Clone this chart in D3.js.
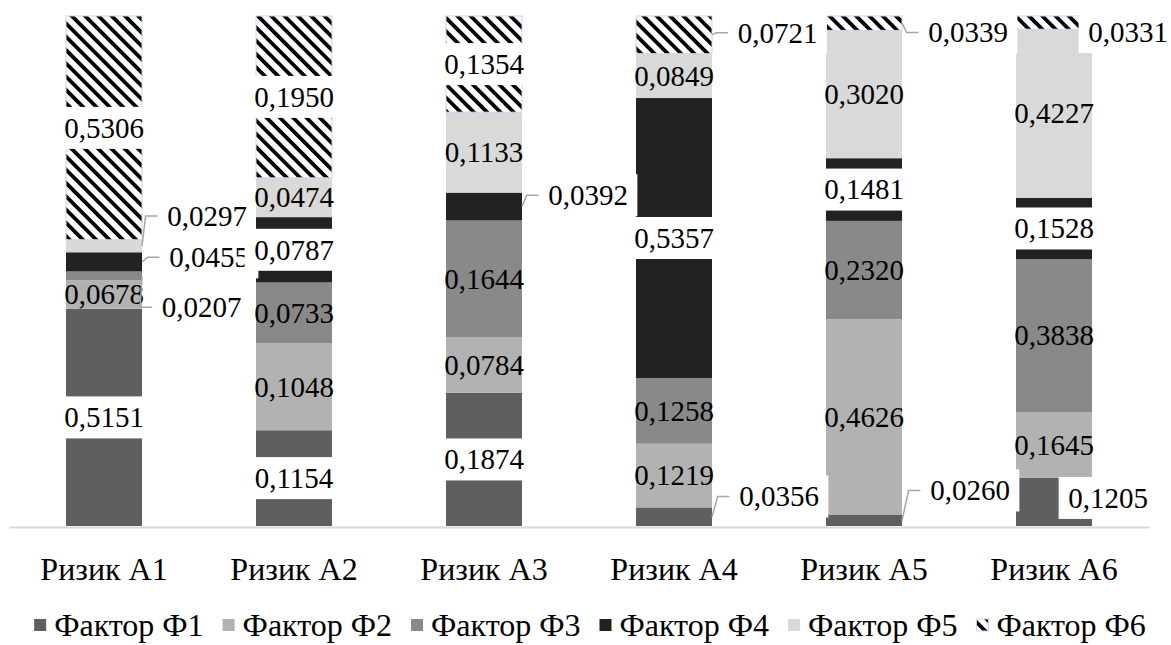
<!DOCTYPE html>
<html>
<head>
<meta charset="utf-8">
<script src="https://cdn.jsdelivr.net/npm/d3@7"></script>
</head>
<body style="margin:0">
<svg id="chart" width="1171" height="645" font-family="Liberation Serif"></svg>
<script>
// Categories (risks) and series (factors)
const risks = ["Ризик А1", "Ризик А2", "Ризик А3", "Ризик А4", "Ризик А5", "Ризик А6"];
const factors = ["Фактор Ф1", "Фактор Ф2", "Фактор Ф3", "Фактор Ф4", "Фактор Ф5", "Фактор Ф6"];

// Factor weights per risk (shown as 100 % stacked columns)
const f1 = [0.5151, 0.1154, 0.1874, 0.0356, 0.0260, 0.1205];
const f2 = [0.0678, 0.1048, 0.0784, 0.1219, 0.4626, 0.1645];
const f3 = [0.0207, 0.0733, 0.1644, 0.1258, 0.2320, 0.3838];
const f4 = [0.0455, 0.0787, 0.0392, 0.5357, 0.1481, 0.1528];
const f5 = [0.0297, 0.0474, 0.1133, 0.0849, 0.3020, 0.4227];
const f6 = [0.5306, 0.1950, 0.1354, 0.0721, 0.0339, 0.0331];
const seriesValues = [f1, f2, f3, f4, f5, f6];

// ---- styling / layout ----
const FONT = "Times New Roman";
const fills = ["#5f5f5f", "#b2b2b2", "#898989", "#222222", "#d9d9d9", "url(#hatch)"];
const labelBoxed = [true, false, false, true, false, true];   // white label background per series
const labelFont = 29, axisFont = 32;

function serifText(sel, size) {
  return sel.attr("font-family", FONT)
    .style("font-family", `"${FONT}"`)
    .style("font-size", size + "px")
    .attr("fill", "#000");
}

// labels moved away from the segment centre: [series, risk] -> offset from default spot
const labelMoves = [
  { s: 2, r: 0, dx: 97.5, dy: 31.4, leader: true },
  { s: 3, r: 0, dx: 105,  dy: -4.5, leader: true },
  { s: 4, r: 0, dx: 103,  dy: -30,  leader: true },
  { s: 3, r: 2, dx: 104,  dy: -11.4, leader: true },
  { s: 5, r: 3, dx: 103.5, dy: -2,  leader: true },
  { s: 5, r: 4, dx: 104,  dy: 9.3,  leader: true },
  { s: 5, r: 5, dx: 74,   dy: 9.4,  leader: false },
  { s: 0, r: 3, dx: 105,  dy: -20.2, leader: true },
  { s: 0, r: 4, dx: 106,  dy: -30,  leader: true },
  { s: 0, r: 5, dx: 54,   dy: -4,   leader: false }
];

const svg = d3.select("#chart");

// diagonal hatch for the last factor
const defs = svg.append("defs");
const pat = defs.append("pattern")
  .attr("id", "hatch")
  .attr("patternUnits", "userSpaceOnUse")
  .attr("width", 9.4).attr("height", 10)
  .attr("patternTransform", "rotate(-45)");
pat.append("rect").attr("width", 9.4).attr("height", 10).attr("fill", "#fff");
pat.append("rect").attr("width", 3.8).attr("height", 10).attr("fill", "#000");

const x = d3.scaleBand().domain(risks).range([9, 1149]).paddingInner(0.6).paddingOuter(0.3);
const y = d3.scaleLinear().domain([0, 1]).range([526, 16]);

const rows = risks.map((r, i) => {
  const o = { risk: r };
  factors.forEach((f, k) => { o[f] = seriesValues[k][i]; });
  return o;
});
const stacked = d3.stack().keys(factors).offset(d3.stackOffsetExpand)(rows);

// axis baseline and category names
const axis = svg.append("g")
  .attr("transform", `translate(0,${y(0) + 1})`)
  .call(d3.axisBottom(x).tickSize(0).tickSizeOuter(0));
axis.attr("font-family", FONT).attr("font-size", axisFont);
axis.select(".domain").attr("stroke", "#d9d9d9").attr("stroke-width", 2);
serifText(axis.selectAll(".tick text"), axisFont)
  .attr("y", 30).attr("dy", "0.71em");

// stacked segments
stacked.forEach((layer, s) => {
  svg.append("g").selectAll("rect").data(layer).join("rect")
    .attr("x", d => x(d.data.risk))
    .attr("width", x.bandwidth())
    .attr("y", d => y(d[1]))
    .attr("height", d => y(d[0]) - y(d[1]))
    .attr("fill", fills[s])
    .attr("stroke", s === 5 ? "#c8d6f0" : "none")
    .attr("stroke-width", s === 5 ? 1 : 0);
});

// data labels
const fmt = v => d3.format(".4f")(v).replace(".", ",");
const padX = 9.5, boxH = 42;
const labelLayer = svg.append("g");
stacked.forEach((layer, s) => {
  layer.forEach((d, r) => {
    const value = seriesValues[s][r];
    const cx0 = x(d.data.risk) + x.bandwidth() / 2;
    const cy0 = (y(d[0]) + y(d[1])) / 2;
    const mv = labelMoves.find(m => m.s === s && m.r === r);
    const cx = cx0 + (mv ? mv.dx : 0);
    const cy = cy0 + (mv ? mv.dy : 0);
    const g = labelLayer.append("g");
    const leader = g.append("path");
    const box = g.append("rect");
    const t = serifText(g.append("text"), labelFont)
      .attr("x", cx).attr("y", cy).attr("dy", "0.34em")
      .attr("text-anchor", "middle")
      .text(fmt(value));
    const tw = t.node().getComputedTextLength();
    const bw = tw + 2 * padX;
    if (labelBoxed[s]) {
      box.attr("x", cx - bw / 2).attr("y", cy - boxH / 2)
        .attr("width", bw).attr("height", boxH).attr("fill", "#fff");
    } else {
      box.remove();
    }
    if (mv && mv.leader) {
      const barRight = x(d.data.risk) + x.bandwidth();
      const boxLeft = cx - bw / 2;
      leader.attr("d", `M${barRight},${cy0}L${boxLeft - 12},${cy}L${boxLeft},${cy}`)
        .attr("fill", "none").attr("stroke", "#a6a6a6").attr("stroke-width", 1.5);
    } else {
      leader.remove();
    }
  });
});

// legend
const legend = svg.append("g");
let lx = 0;
factors.forEach((f, s) => {
  const item = legend.append("g").attr("transform", `translate(${lx},0)`);
  item.append("rect").attr("x", 0).attr("y", 619).attr("width", 12).attr("height", 12)
    .attr("fill", fills[s])
    .attr("stroke", s === 5 ? "#c8d6f0" : "none").attr("stroke-width", 1);
  const t = serifText(item.append("text"), axisFont)
    .attr("x", 20).attr("y", 636).text(f);
  lx += 20 + t.node().getComputedTextLength() + 19;
});
const legendW = lx - 19;
legend.attr("transform", `translate(${590 - legendW / 2},0)`);
</script>
</body>
</html>
